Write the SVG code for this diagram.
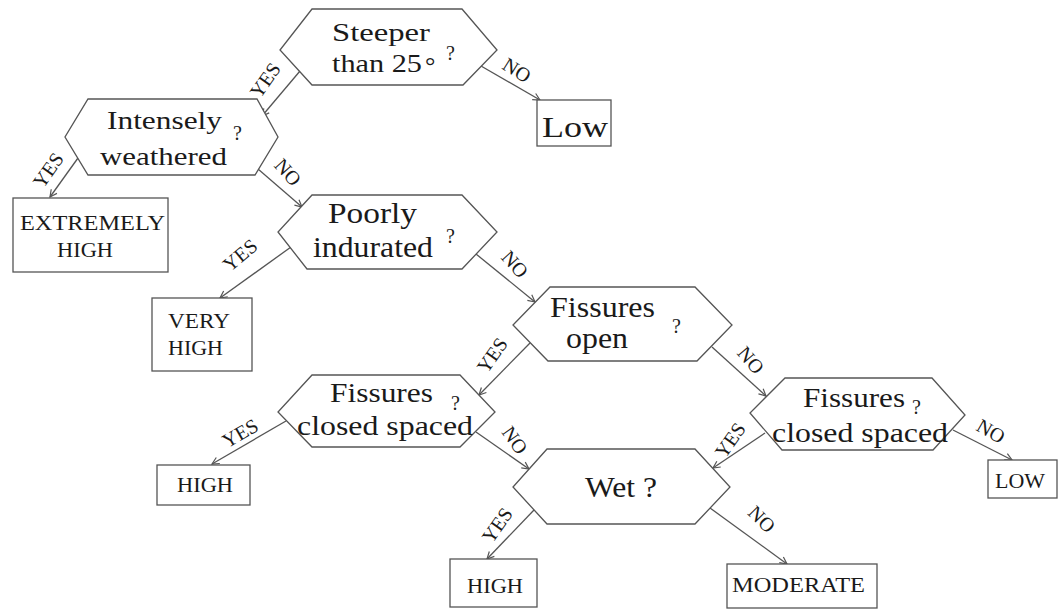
<svg xmlns="http://www.w3.org/2000/svg" width="1058" height="610" viewBox="0 0 1058 610">
<defs>
<marker id="arr" markerUnits="userSpaceOnUse" markerWidth="12" markerHeight="12" refX="0" refY="0" viewBox="-10 -6 12 12" orient="auto">
<path d="M-7,-3.5 L0,0 L-7,3.5" fill="none" stroke="#555" stroke-width="1.2"/>
</marker>
<style>
.hex{fill:#fff;stroke:#555;stroke-width:1.3}
.box{fill:#fff;stroke:#555;stroke-width:1.3}
.t{font-family:"Liberation Serif","Times New Roman",serif;fill:#1a1a1a}
.q{font-family:"Liberation Serif","Times New Roman",serif;fill:#1a1a1a;font-size:20px}
.c{font-family:"Liberation Serif","Times New Roman",serif;fill:#1a1a1a;font-size:22px}
.lb{font-family:"Liberation Serif","Times New Roman",serif;fill:#1a1a1a;font-size:20px;text-anchor:middle;dominant-baseline:central}
.ln{stroke:#555;stroke-width:1.3;fill:none;marker-end:url(#arr)}
</style>
</defs>
<rect width="1058" height="610" fill="#fff"/>
<g id="connectors">
<line class="ln" x1="300" y1="71" x2="262" y2="116"/>
<line class="ln" x1="481" y1="66" x2="540" y2="100"/>
<line class="ln" x1="78" y1="158" x2="50" y2="197"/>
<line class="ln" x1="258" y1="169" x2="302" y2="207"/>
<line class="ln" x1="291" y1="247" x2="220" y2="298"/>
<line class="ln" x1="476" y1="254" x2="535" y2="302"/>
<line class="ln" x1="530" y1="343" x2="479" y2="395"/>
<line class="ln" x1="712" y1="347" x2="766" y2="396"/>
<line class="ln" x1="286" y1="421" x2="212" y2="464"/>
<line class="ln" x1="476" y1="432" x2="529" y2="469"/>
<line class="ln" x1="765" y1="433" x2="713" y2="468"/>
<line class="ln" x1="953" y1="430" x2="1012" y2="460"/>
<line class="ln" x1="534" y1="510" x2="487" y2="559"/>
<line class="ln" x1="710" y1="508" x2="787" y2="564"/>
<text class="lb" transform="translate(265,80) rotate(-55)">YES</text>
<text class="lb" transform="translate(517,70) rotate(32)">NO</text>
<text class="lb" transform="translate(48,170) rotate(-55)">YES</text>
<text class="lb" transform="translate(288,172) rotate(48)">NO</text>
<text class="lb" transform="translate(240,255) rotate(-40)">YES</text>
<text class="lb" transform="translate(515,264) rotate(48)">NO</text>
<text class="lb" transform="translate(492,355) rotate(-55)">YES</text>
<text class="lb" transform="translate(751,360) rotate(50)">NO</text>
<text class="lb" transform="translate(240,433) rotate(-30)">YES</text>
<text class="lb" transform="translate(515,440) rotate(55)">NO</text>
<text class="lb" transform="translate(730,440) rotate(-55)">YES</text>
<text class="lb" transform="translate(991,431) rotate(30)">NO</text>
<text class="lb" transform="translate(497,525) rotate(-55)">YES</text>
<text class="lb" transform="translate(762,519) rotate(45)">NO</text>
</g>
<g id="n-steeper">
<polygon class="hex" points="312,9 462,9 497,50 463,85 312,85 280,50"/>
<text class="t" font-size="26" x="332" y="41" textLength="98" lengthAdjust="spacingAndGlyphs">Steeper</text>
<text class="t" font-size="26" x="332" y="72" textLength="90" lengthAdjust="spacingAndGlyphs">than 25</text>
<text class="t" font-size="26" x="425" y="74">°</text>
<text class="q" x="446" y="60">?</text>
</g>
<g id="n-low">
<rect class="box" x="537" y="100" width="74" height="46"/>
<text class="t" font-size="30" x="542" y="137" textLength="66" lengthAdjust="spacingAndGlyphs">Low</text>
</g>
<g id="n-intensely">
<polygon class="hex" points="88,99 257,99 278,137 255,175 88,175 65,137"/>
<text class="t" font-size="26" x="107" y="129" textLength="115" lengthAdjust="spacingAndGlyphs">Intensely</text>
<text class="t" font-size="26" x="100" y="165" textLength="127" lengthAdjust="spacingAndGlyphs">weathered</text>
<text class="q" x="233" y="140">?</text>
</g>
<g id="n-extremely">
<rect class="box" x="13" y="198" width="155" height="74"/>
<text class="c" x="20" y="230" textLength="145" lengthAdjust="spacingAndGlyphs">EXTREMELY</text>
<text class="c" x="57" y="257" textLength="56" lengthAdjust="spacingAndGlyphs">HIGH</text>
</g>
<g id="n-poorly">
<polygon class="hex" points="312,195 462,195 497,232 462,269 307,269 278,232"/>
<text class="t" font-size="29" x="328" y="223" textLength="89" lengthAdjust="spacingAndGlyphs">Poorly</text>
<text class="t" font-size="29" x="313" y="257" textLength="120" lengthAdjust="spacingAndGlyphs">indurated</text>
<text class="q" x="446" y="243">?</text>
</g>
<g id="n-veryhigh">
<rect class="box" x="152" y="298" width="100" height="73"/>
<text class="c" x="168" y="328" textLength="62" lengthAdjust="spacingAndGlyphs">VERY</text>
<text class="c" x="168" y="355" textLength="55" lengthAdjust="spacingAndGlyphs">HIGH</text>
</g>
<g id="n-fissures-open">
<polygon class="hex" points="550,287 695,287 732,325 697,361 548,361 513,325"/>
<text class="t" font-size="30" x="550" y="317" textLength="105" lengthAdjust="spacingAndGlyphs">Fissures</text>
<text class="t" font-size="30" x="566" y="348" textLength="62" lengthAdjust="spacingAndGlyphs">open</text>
<text class="q" x="672" y="333">?</text>
</g>
<g id="n-closed-left">
<polygon class="hex" points="312,375 460,375 495,412 460,447 312,447 278,412"/>
<text class="t" font-size="27" x="330" y="402" textLength="103" lengthAdjust="spacingAndGlyphs">Fissures</text>
<text class="t" font-size="27" x="297" y="435" textLength="176" lengthAdjust="spacingAndGlyphs">closed spaced</text>
<text class="q" x="451" y="410">?</text>
</g>
<g id="n-high-left">
<rect class="box" x="157" y="465" width="93" height="40"/>
<text class="c" x="177" y="492" textLength="56" lengthAdjust="spacingAndGlyphs">HIGH</text>
</g>
<g id="n-closed-right">
<polygon class="hex" points="785,378 932,378 965,415 933,450 782,450 750,413"/>
<text class="t" font-size="27" x="803" y="407" textLength="102" lengthAdjust="spacingAndGlyphs">Fissures</text>
<text class="t" font-size="27" x="772" y="442" textLength="176" lengthAdjust="spacingAndGlyphs">closed spaced</text>
<text class="q" x="912" y="414">?</text>
</g>
<g id="n-low2">
<rect class="box" x="988" y="460" width="69" height="38"/>
<text class="c" x="995" y="488" textLength="50" lengthAdjust="spacingAndGlyphs">LOW</text>
</g>
<g id="n-wet">
<polygon class="hex" points="547,449 695,449 730,487 695,524 547,524 513,487"/>
<text class="t" font-size="30" x="585" y="497" textLength="72" lengthAdjust="spacingAndGlyphs">Wet ?</text>
</g>
<g id="n-high-bottom">
<rect class="box" x="450" y="559" width="87" height="48"/>
<text class="c" x="467" y="593" textLength="56" lengthAdjust="spacingAndGlyphs">HIGH</text>
</g>
<g id="n-moderate">
<rect class="box" x="727" y="564" width="150" height="44"/>
<text class="c" x="732" y="592" textLength="133" lengthAdjust="spacingAndGlyphs">MODERATE</text>
</g>
</svg>
